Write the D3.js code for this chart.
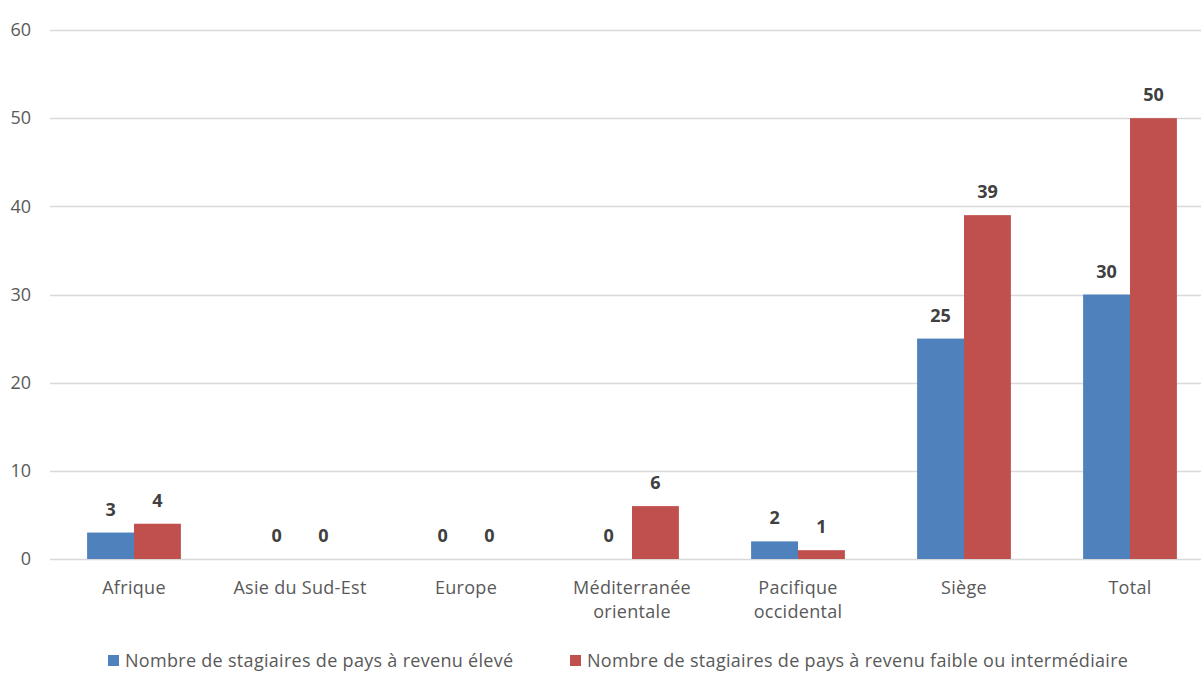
<!DOCTYPE html>
<html>
<head>
<meta charset="utf-8">
<script src="https://cdn.jsdelivr.net/npm/d3@7"></script>
<style>
	body { margin: 0; background: #fff; }
	svg { display: block; font-family: "Open Sans", "Liberation Sans", sans-serif; }
</style>
</head>
<body>
<svg id="plot" width="1201" height="687"></svg>
<script>
const CATEGORIES = [['Afrique'], ['Asie du Sud-Est'], ['Europe'], ['Méditerranée', 'orientale'],
	['Pacifique', 'occidental'], ['Siège'], ['Total']];
const HIGH_INCOME = [3, 0, 0, 0, 2, 25, 30];
const LOW_MID_INCOME = [4, 0, 0, 6, 1, 39, 50];
const SERIES_NAMES = ['Nombre de stagiaires de pays à revenu élevé',
	'Nombre de stagiaires de pays à revenu faible ou intermédiaire'];
const Y_TICKS = [0, 10, 20, 30, 40, 50, 60];
const COLORS = ['#4F81BD', '#C0504D'];

const svg = d3.select('#plot');
const names = CATEGORIES.map(c => c.join(' '));

const x = d3.scaleBand().domain(names).range([51, 1213]);
const inner = d3.scaleBand().domain([0, 1]).range([0, x.bandwidth()]).paddingOuter(0.77);
const y = d3.scaleLinear().domain([0, 60]).range([559, 30]);

// gridlines
svg.append('g').selectAll('line')
	.data(Y_TICKS)
	.enter().append('line')
	.attr('x1', 50).attr('x2', 1201)
	.attr('y1', d => Math.round(y(d)) + 0.5).attr('y2', d => Math.round(y(d)) + 0.5)
	.attr('stroke', '#D9D9D9').attr('stroke-width', 1.3);

// y labels
svg.append('g').selectAll('text')
	.data(Y_TICKS)
	.enter().append('text')
	.attr('x', 31).attr('y', d => y(d))
	.attr('dy', '0.35em').attr('text-anchor', 'end')
	.attr('font-size', 18).attr('fill', '#595959')
	.text(d => d);

const series = [HIGH_INCOME, LOW_MID_INCOME];
series.forEach((vals, s) => {
	const g = svg.append('g');
	g.selectAll('rect')
		.data(vals)
		.enter().append('rect')
		.attr('x', (d, i) => x(names[i]) + inner(s))
		.attr('width', inner.bandwidth())
		.attr('y', d => y(d))
		.attr('height', d => y(0) - y(d))
		.attr('fill', COLORS[s]);
	g.selectAll('text')
		.data(vals)
		.enter().append('text')
		.attr('x', (d, i) => x(names[i]) + inner(s) + inner.bandwidth() / 2)
		.attr('y', d => y(d) - 17)
		.attr('text-anchor', 'middle')
		.attr('font-size', 18).attr('font-weight', 'bold').attr('fill', '#404040')
		.text(d => d);
});

// x labels
const xl = svg.append('g').selectAll('text')
	.data(CATEGORIES)
	.enter().append('text')
	.attr('x', (d, i) => x(names[i]) + x.bandwidth() / 2)
	.attr('y', 594)
	.attr('text-anchor', 'middle')
	.attr('font-size', 18).attr('letter-spacing', 0.3).attr('fill', '#595959');
xl.selectAll('tspan')
	.data(d => d)
	.enter().append('tspan')
	.attr('x', function () { return this.parentNode.getAttribute('x'); })
	.attr('dy', (d, i) => i === 0 ? 0 : 24)
	.text(d => d);

// legend
const legendX = [108, 570];
const lg = svg.append('g').selectAll('g')
	.data(SERIES_NAMES)
	.enter().append('g')
	.attr('transform', (d, i) => `translate(${legendX[i]},661)`);
lg.append('rect').attr('x', 0).attr('y', -6).attr('width', 11).attr('height', 11)
	.attr('fill', (d, i) => COLORS[i]);
lg.append('text').attr('x', 17).attr('dy', '0.35em')
	.attr('font-size', 18).attr('letter-spacing', 0.3).attr('fill', '#595959')
	.text(d => d);
</script>
</body>
</html>
